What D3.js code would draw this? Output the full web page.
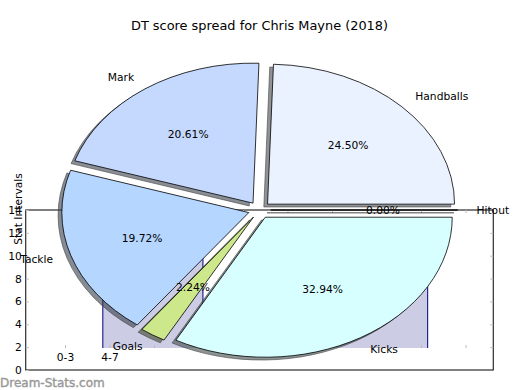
<!DOCTYPE html>
<html>
<head>
<meta charset="utf-8">
<script src="https://cdn.jsdelivr.net/npm/d3@7"></script>
<style>
  body { margin: 0; background: #fff; }
  svg text { font-family: "DejaVu Sans", sans-serif; }
</style>
</head>
<body>
<svg id="chart" width="520" height="390"></svg>
<script>
// DT points by stat (pie)
const stats = ['Handballs', 'Mark', 'Tackle', 'Goals', 'Kicks', 'Hitout'];
const points = [328, 276, 264, 30, 441, 0];

// interval bars left behind on the figure
const intervals = ['0-3', '4-7'];
const binLo = [0.85, 3.1, 6.0];
const binHi = [3.1, 6.0, 8.15];
const binCount = [9, 1.5, 7];

const yTicks = [0, 2, 4, 6, 8, 10, 12, 14];

const cx = 259.5, cy = 210, rx = 187, ry = 140;
const explode = 0.06, fontSize = 10.7;

const color = d3.scaleOrdinal()
  .domain(stats)
  .range(['#ebf2ff', '#c5d9ff', '#b4d6ff', '#cce88a', '#d8ffff', '#ffe0e0']);

const svg = d3.select('#chart');

svg.append('text')
  .attr('x', cx)
  .attr('y', 30)
  .attr('text-anchor', 'middle')
  .style('font-size', '12.9px')
  .text('DT score spread for Chris Mayne (2018)');

// outer frame / axes
const left = cx - 1.25 * rx, right = cx + 1.25 * rx;
const yOuter = d3.scaleLinear().domain([0, 14]).range([370, 210]);
const xInner = d3.scaleLinear().domain([0, 9]).range([65, 465.5]);
const yInner = d3.scaleLinear().domain([0, 12]).range([348, 348 - 12 * 160 / 14]);

// bars (clipped at the inner baseline, so no bottom edge)
const bars = binLo.map((lo, i) => ({ lo, hi: binHi[i], n: binCount[i] }));
const barG = svg.append('g');
barG.selectAll('rect')
  .data(bars)
  .join('rect')
  .attr('x', d => xInner(d.lo))
  .attr('y', d => yInner(d.n))
  .attr('width', d => xInner(d.hi) - xInner(d.lo))
  .attr('height', d => yInner(0) - yInner(d.n))
  .attr('fill', '#cccce5');
barG.selectAll('path')
  .data(bars)
  .join('path')
  .attr('d', d => `M${xInner(d.lo)},${yInner(0)}V${yInner(d.n)}H${xInner(d.hi)}V${yInner(0)}`)
  .attr('fill', 'none')
  .attr('stroke', '#000080')
  .attr('stroke-width', 1);

svg.append('rect')
  .attr('x', left)
  .attr('y', yOuter(14))
  .attr('width', right - left)
  .attr('height', yOuter(0) - yOuter(14))
  .attr('fill', 'none')
  .attr('stroke', '#000')
  .attr('stroke-width', 1);

const leftAxis = svg.append('g')
  .attr('transform', `translate(${left},0)`)
  .call(d3.axisLeft(yOuter).tickValues(yTicks).tickSize(-3).tickPadding(4));

const rightAxis = svg.append('g')
  .attr('transform', `translate(${right},0)`)
  .call(d3.axisRight(yOuter).tickValues(yTicks.slice(1, -1)).tickSize(-3).tickFormat(''));

const bottomAxis = svg.append('g')
  .attr('transform', `translate(0,${yInner(0)})`)
  .call(d3.axisBottom(xInner).ticks(10).tickSize(-3).tickPadding(5)
    .tickFormat(i => intervals[i] || ''));

const topAxis = svg.append('g')
  .attr('transform', `translate(0,${yOuter(14)})`)
  .call(d3.axisTop(xInner).ticks(10).tickSize(-3).tickFormat(''));

[leftAxis, rightAxis, bottomAxis, topAxis].forEach(g => {
  g.select('.domain').remove();
  g.selectAll('.tick line').attr('stroke', '#bbb');
  g.selectAll('.tick text')
    .attr('fill', '#000')
    .style('font-family', '"DejaVu Sans", sans-serif')
    .style('font-size', fontSize + 'px');
});

svg.append('text')
  .attr('transform', 'translate(22,209) rotate(-90)')
  .attr('text-anchor', 'middle')
  .style('font-size', fontSize + 'px')
  .text('Stat Intervals');

// pie (elliptical, exploded, with shadow)
const pie = d3.pie()
  .sort(null)
  .startAngle(Math.PI / 2)
  .endAngle(Math.PI / 2 - 2 * Math.PI);

const arc = d3.arc().innerRadius(0).outerRadius(100);

const total = d3.sum(points);
const arcs = pie(points).map((d, i) => {
  const a = (d.startAngle + d.endAngle) / 2;
  const ux = Math.sin(a), uy = -Math.cos(a);
  return {
    ...d,
    name: stats[i],
    ux, uy,
    ox: cx + explode * rx * ux,
    oy: cy + explode * ry * uy
  };
});

svg.append('g')
  .selectAll('path')
  .data(arcs)
  .join('path')
  .attr('d', arc)
  .attr('transform', d => `translate(${d.ox - 0.02 * rx},${d.oy + 0.02 * ry}) scale(${rx / 100},${ry / 100})`)
  .attr('vector-effect', 'non-scaling-stroke')
  .attr('fill', d => {
    const c = d3.rgb(color(d.name));
    return d3.rgb(c.r * 0.3, c.g * 0.3, c.b * 0.3);
  })
  .attr('fill-opacity', 0.6)
  .attr('stroke', '#444')
  .attr('stroke-opacity', 0.6)
  .attr('stroke-width', 1);

svg.append('g')
  .selectAll('path')
  .data(arcs)
  .join('path')
  .attr('d', arc)
  .attr('transform', d => `translate(${d.ox},${d.oy}) scale(${rx / 100},${ry / 100})`)
  .attr('vector-effect', 'non-scaling-stroke')
  .attr('fill', d => color(d.name))
  .attr('stroke', '#000')
  .attr('stroke-width', 0.8);

// percentages
svg.append('g')
  .selectAll('text')
  .data(arcs)
  .join('text')
  .attr('x', d => d.ox + 0.6 * rx * d.ux)
  .attr('y', d => d.oy + 0.6 * ry * d.uy)
  .attr('text-anchor', 'middle')
  .attr('dominant-baseline', 'central')
  .style('font-size', fontSize + 'px')
  .text(d => d3.format('.2f')(d.value / total * 100) + '%');

// stat labels
svg.append('g')
  .selectAll('text')
  .data(arcs)
  .join('text')
  .attr('x', d => d.ox + 1.1 * rx * d.ux)
  .attr('y', d => d.oy + 1.1 * ry * d.uy)
  .attr('text-anchor', d => d.ux >= 0 ? 'start' : 'end')
  .attr('dominant-baseline', 'central')
  .style('font-size', fontSize + 'px')
  .text(d => d.name);

svg.append('text')
  .attr('x', 0)
  .attr('y', 387)
  .attr('fill', '#999')
  .attr('stroke', '#999')
  .attr('stroke-width', 0.4)
  .style('font-size', '12px')
  .text('Dream-Stats.com');
</script>
</body>
</html>
